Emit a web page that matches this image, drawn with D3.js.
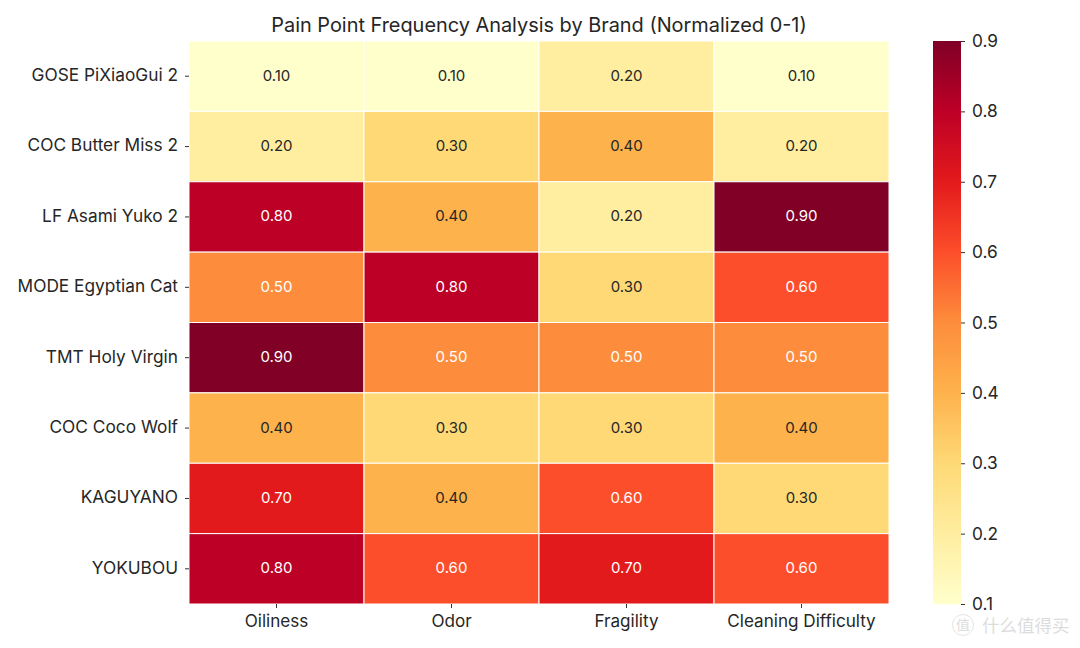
<!DOCTYPE html>
<html>
<head>
<meta charset="utf-8">
<script src="https://cdn.jsdelivr.net/npm/d3@7"></script>
<style>
  html, body { margin: 0; padding: 0; background: #fff; }
  svg { display: block; }
  text { font-family: "Inter", "Noto Sans", sans-serif; fill: #262626; }
  .axis path { display: none; }
  .axis line { stroke: #333; stroke-width: 1; }
</style>
</head>
<body>
<svg id="chart" width="1080" height="648"></svg>
<script>
const brands = ["GOSE PiXiaoGui 2", "COC Butter Miss 2", "LF Asami Yuko 2", "MODE Egyptian Cat",
                "TMT Holy Virgin", "COC Coco Wolf", "KAGUYANO", "YOKUBOU"];
const painPoints = ["Oiliness", "Odor", "Fragility", "Cleaning Difficulty"];

const oiliness = [0.1, 0.2, 0.8, 0.5, 0.9, 0.4, 0.7, 0.8];
const odor = [0.1, 0.3, 0.4, 0.8, 0.5, 0.3, 0.4, 0.6];
const fragility = [0.2, 0.4, 0.2, 0.3, 0.5, 0.3, 0.6, 0.7];
const cleaningDifficulty = [0.1, 0.2, 0.9, 0.6, 0.5, 0.4, 0.3, 0.6];
const seriesValues = [oiliness, odor, fragility, cleaningDifficulty];

const colorbarTicks = [0.1, 0.2, 0.3, 0.4, 0.5, 0.6, 0.7, 0.8, 0.9];
const colorStops = ["#ffffcc", "#ffeda0", "#fed976", "#feb24c", "#fd8d3c", "#fc4e2a", "#e31a1c", "#bd0026", "#800026"];

const plot = { left: 189, right: 889, top: 41, bottom: 604 };
const bar = { left: 933, right: 961 };

const svg = d3.select("#chart");

const x = d3.scaleBand().domain(painPoints).range([plot.left, plot.right]);
const y = d3.scaleBand().domain(brands).range([plot.top, plot.bottom]);
const color = d3.scaleLinear().domain(colorbarTicks).range(colorStops);

svg.append("text")
  .attr("x", (plot.left + plot.right) / 2)
  .attr("y", 32)
  .attr("text-anchor", "middle")
  .attr("font-size", 19.9)
  .text("Pain Point Frequency Analysis by Brand (Normalized 0-1)");

// One group per column, one cell per brand
const cells = svg.append("g")
  .selectAll("g")
  .data(seriesValues)
  .join("g")
  .selectAll("g")
  .data((vals, i) => vals.map((v, j) => ({ v, col: painPoints[i], row: brands[j] })))
  .join("g");

cells.append("rect")
  .attr("x", d => x(d.col))
  .attr("y", d => y(d.row))
  .attr("width", x.bandwidth())
  .attr("height", y.bandwidth())
  .attr("fill", d => color(d.v))
  .attr("stroke", "#fff")
  .attr("stroke-width", 1);

cells.append("text")
  .attr("x", d => x(d.col) + x.bandwidth() / 2)
  .attr("y", d => y(d.row) + y.bandwidth() / 2)
  .attr("dy", "0.3em")
  .attr("text-anchor", "middle")
  .attr("font-size", 15)
  .style("fill", d => d.v >= 0.5 ? "#fff" : "#262626")
  .text(d => d.v.toFixed(2));

const yAxis = svg.append("g")
  .attr("class", "axis")
  .attr("transform", `translate(${plot.left},0)`)
  .call(d3.axisLeft(y).tickSize(4).tickPadding(7));

const xAxis = svg.append("g")
  .attr("class", "axis")
  .attr("transform", `translate(0,${plot.bottom})`)
  .call(d3.axisBottom(x).tickSize(4).tickPadding(7));

yAxis.selectAll("text").attr("font-size", 17.3).attr("dy", "0.28em");
xAxis.selectAll("text").attr("font-size", 17.1);

// Colour bar, built from thin slices of the same colour scale
const barY = d3.scaleLinear().domain([0.1, 0.9]).range([plot.bottom, plot.top]);
const slices = d3.range(plot.top, plot.bottom);
svg.append("g")
  .selectAll("rect")
  .data(slices)
  .join("rect")
  .attr("x", bar.left)
  .attr("y", d => d)
  .attr("width", bar.right - bar.left)
  .attr("height", 1.2)
  .attr("fill", d => color(barY.invert(d + 0.5)));

const barAxis = svg.append("g")
  .attr("class", "axis")
  .attr("transform", `translate(${bar.right},0)`)
  .call(d3.axisRight(barY).tickValues(colorbarTicks).tickFormat(d3.format(".1f")).tickSize(4).tickPadding(7));
barAxis.selectAll("text").attr("font-size", 17.3);

// Site mark in the lower right corner
const mark = svg.append("g").attr("opacity", 0.25);
mark.append("circle")
  .attr("cx", 963).attr("cy", 625).attr("r", 10.5)
  .attr("fill", "none").attr("stroke", "#999").attr("stroke-width", 1);
mark.append("text")
  .attr("x", 963).attr("y", 630)
  .attr("text-anchor", "middle")
  .attr("font-size", 14)
  .style("font-family", '"Noto Sans CJK SC"')
  .style("fill", "#777")
  .text("值");
mark.append("text")
  .attr("x", 982).attr("y", 632)
  .attr("font-size", 17.5)
  .style("font-family", '"Noto Sans CJK SC"')
  .style("fill", "#777")
  .text("什么值得买");
</script>
</body>
</html>
